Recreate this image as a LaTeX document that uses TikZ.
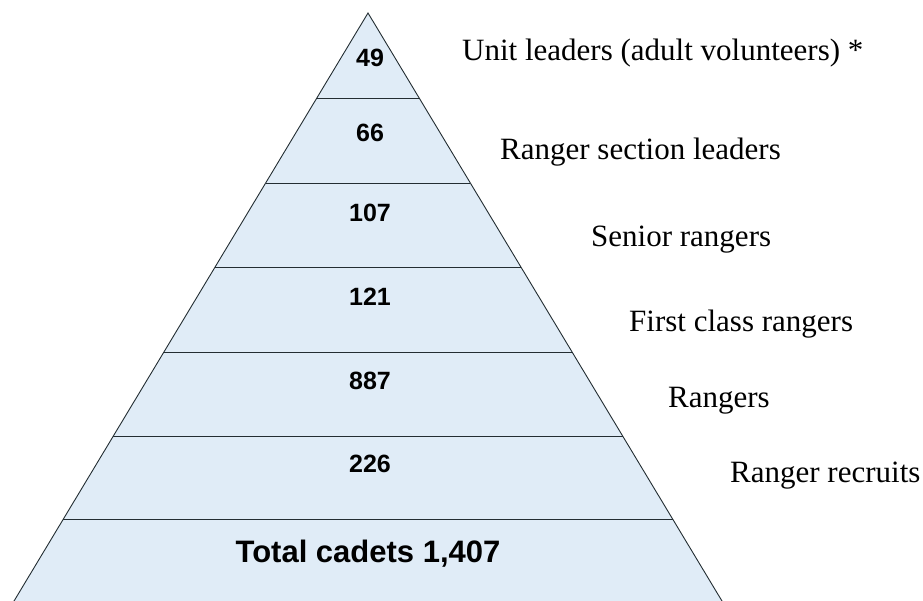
\documentclass[tikz,border=0pt]{standalone}
\usepackage{fontspec}
\setmainfont{Liberation Serif}
\setsansfont{Liberation Sans}
\definecolor{pyrfill}{RGB}{224,236,247}
\definecolor{pyrline}{RGB}{35,45,50}

\begin{document}
\begin{tikzpicture}[x=1pt, y=-1pt,
    count/.style={font=\sffamily\bfseries\fontsize{25}{25}\selectfont, anchor=base, inner sep=0pt},
    rank/.style={font=\fontsize{31}{31}\selectfont, anchor=base west, inner sep=0pt}]
    \useasboundingbox (0,0) rectangle (923,601);
    \clip (0,0) rectangle (923,601);

    \def\apx{368}
    \def\apy{13}
    \def\slope{0.602}
    \filldraw[fill=pyrfill, draw=pyrline, line width=0.9pt, line join=miter]
      (\apx,\apy) -- ({\apx-\slope*(615-\apy)},615) -- ({\apx+\slope*(615-\apy)},615) -- cycle;
    \foreach \y in {98,183,267,352,436,519} {
      \pgfmathsetmacro{\hw}{\slope*(\y-\apy)}
      \draw[pyrline, line width=0.9pt] ({\apx-\hw},\y) -- ({\apx+\hw},\y);
    }

    % numbers in each layer
    \foreach \v/\yb in {49/67,66/142,107/222,121/306,887/389,226/472} {
      \node[count] (c\v) at (370,\yb) {\v};
    }
    \node[count, font=\sffamily\bfseries\fontsize{31}{31}\selectfont] (total) at (368,562) {Total cadets 1,407};

    % ranks
    \node[rank] (unitlead) at (462,61) {Unit leaders (adult volunteers) *};
    \node[rank] (seclead) at (500,160) {Ranger section leaders};
    \node[rank] (senior) at (591,247) {Senior rangers};
    \node[rank] (firstcl) at (629,332) {First class rangers};
    \node[rank] (rangers) at (668,407) {Rangers};
    \node[rank] (recruits) at (730,482) {Ranger recruits};
\end{tikzpicture}
\end{document}
